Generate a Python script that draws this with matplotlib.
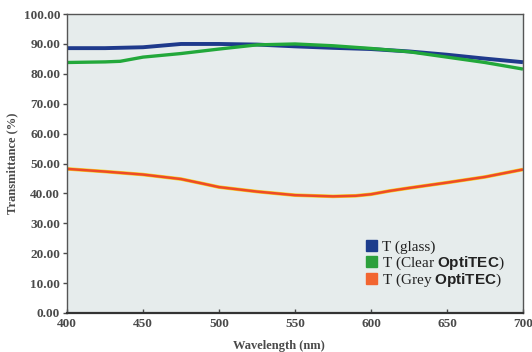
import matplotlib
matplotlib.use("Agg")
import matplotlib.pyplot as plt
from matplotlib.patches import Patch

# wavelength (nm) / transmittance (%)
wl_glass = [400, 425, 450, 475, 500, 525, 550, 575, 600, 625, 650, 675, 700]
t_glass = [88.6, 88.6, 88.9, 90.0, 90.0, 89.8, 89.2, 88.7, 88.3, 87.5, 86.4, 85.1, 83.9]

wl_clear = [400, 425, 435, 450, 475, 500, 525, 550, 575, 600, 625, 650, 675, 700]
t_clear = [83.8, 84.0, 84.2, 85.6, 86.8, 88.3, 89.7, 90.0, 89.4, 88.5, 87.4, 85.6, 83.8, 81.6]

wl_grey = [400, 425, 450, 475, 490, 500, 525, 550, 575, 590, 600, 612, 625, 650, 675, 700]
t_grey = [48.2, 47.3, 46.3, 44.8, 43.2, 42.1, 40.6, 39.4, 39.0, 39.2, 39.7, 40.8, 41.8, 43.6, 45.5, 48.0]

labels = ["T (glass)", r"T (Clear $\mathsf{OptiTEC}$)", r"T (Grey $\mathsf{OptiTEC}$)"]
x_ticks = [400, 450, 500, 550, 600, 650, 700]
y_ticks = [0, 10, 20, 30, 40, 50, 60, 70, 80, 90, 100]

plt.rcParams['font.family'] = ['Liberation Serif', 'DejaVu Serif']
plt.rcParams['mathtext.fontset'] = 'custom'
plt.rcParams['mathtext.sf'] = 'Liberation Sans:bold'
plt.rcParams['mathtext.rm'] = 'Liberation Serif'

txt = '#4a4a4a'
fig = plt.figure(figsize=(5.32, 3.52), dpi=100)
ax = fig.add_axes([0.126, 0.111, 0.857, 0.849])
ax.set_facecolor('#e6ecec')

ax.plot(wl_glass, t_glass, color='#1f3a8c', lw=2.8, solid_capstyle='butt')
ax.plot(wl_clear, t_clear, color='#22a83a', lw=2.4, solid_capstyle='butt')
ax.plot(wl_grey, t_grey, color='#f6d020', lw=2.6, solid_capstyle='butt')
ax.plot(wl_grey, t_grey, color='#ee4a28', lw=1.8, solid_capstyle='butt')

ax.set_xlim(400, 700)
ax.set_ylim(0, 100)
ax.set_xticks(x_ticks)
ax.set_yticks(y_ticks)
ax.set_yticklabels([f"{v:.2f}" for v in y_ticks])
ax.tick_params(axis='y', direction='out', length=3, width=1, colors=txt, labelsize=9.5, pad=2)
ax.tick_params(axis='x', direction='in', length=3, width=1, colors=txt, labelsize=9.5, pad=4)
for lab in ax.get_xticklabels() + ax.get_yticklabels():
    lab.set_fontweight('bold')
for s in ax.spines.values():
    s.set_color('#555555')
    s.set_linewidth(1.0)
ax.spines['bottom'].set_linewidth(1.6)
ax.spines['bottom'].set_color('#333333')

ax.set_xlabel('Wavelength (nm)', fontsize=9, fontweight='bold', color=txt)
ax.xaxis.set_label_coords(0.465, -0.09)
ax.set_ylabel('Transmittance (%)', fontsize=9, fontweight='bold', color=txt, labelpad=4)

handles = [Patch(color='#1c3c8c'), Patch(color='#2ca03c'), Patch(color='#f26530')]
leg = ax.legend(handles, labels, loc='lower left', bbox_to_anchor=(0.656, 0.08),
                frameon=False, fontsize=11, handlelength=0.72, handleheight=0.72,
                handletextpad=0.3, labelspacing=0.0, borderpad=0, borderaxespad=0)
for t in leg.get_texts():
    t.set_color('#222222')

fig.savefig('out.png', dpi=100)
